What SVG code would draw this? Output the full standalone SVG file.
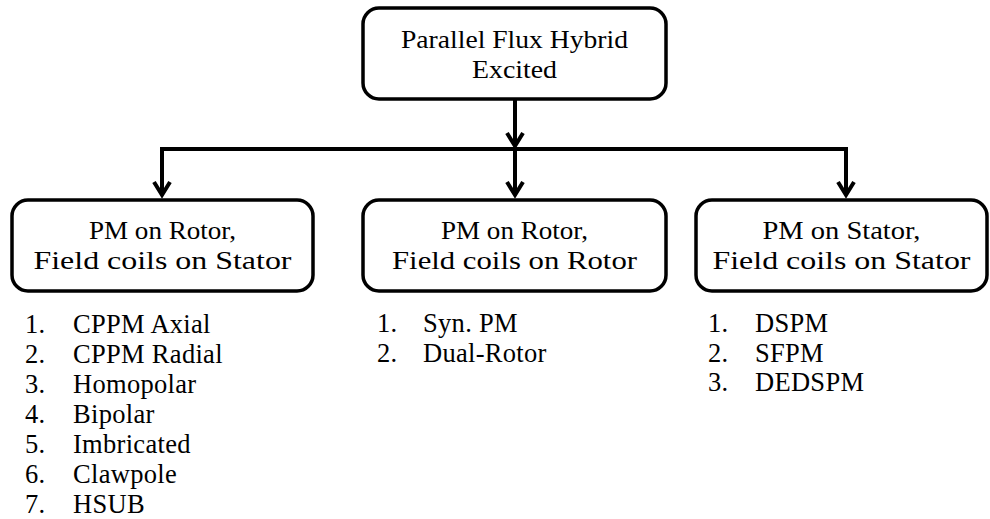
<svg xmlns="http://www.w3.org/2000/svg" width="990" height="519" viewBox="0 0 990 519">
<style>
.box{fill:#fff;stroke:#000;stroke-width:3.5}
.t{font-family:"Liberation Serif","Times New Roman",serif;font-size:26px;fill:#000;text-anchor:middle}
.l{font-family:"Liberation Serif","Times New Roman",serif;font-size:26.5px;letter-spacing:0.3px;fill:#000}
.conn{fill:none;stroke:#000;stroke-width:4;stroke-linejoin:miter}
</style>
<defs>
<marker id="arr" markerUnits="userSpaceOnUse" viewBox="-18 -12 22 24" markerWidth="22" markerHeight="24" refX="0" refY="0" orient="auto" overflow="visible">
<path d="M-13,-8 L0,0 L-13,8" fill="none" stroke="#000" stroke-width="4" stroke-linejoin="miter"/>
</marker>
</defs>
<rect width="990" height="519" fill="#fff"/>
<g id="connectors">
<path class="conn" d="M515,99 V146" marker-end="url(#arr)"/>
<path class="conn" d="M515,149 H162 V195" marker-end="url(#arr)"/>
<path class="conn" d="M515,149 H846 V195" marker-end="url(#arr)"/>
<path class="conn" d="M515,149 V195" marker-end="url(#arr)"/>
</g>
<g id="root">
<rect class="box" x="363" y="8" width="303" height="91" rx="16"/>
<text class="t" x="514.5" y="48" textLength="227" lengthAdjust="spacingAndGlyphs">Parallel Flux Hybrid</text>
<text class="t" x="514.5" y="78" textLength="85" lengthAdjust="spacingAndGlyphs">Excited</text>
</g>
<g id="rotor-stator">
<rect class="box" x="12" y="200" width="301" height="91" rx="16"/>
<text class="t" x="162.5" y="239" textLength="147" lengthAdjust="spacingAndGlyphs">PM on Rotor,</text>
<text class="t" x="162.5" y="269" textLength="258" lengthAdjust="spacingAndGlyphs">Field coils on Stator</text>
</g>
<g id="rotor-rotor">
<rect class="box" x="363" y="200" width="303" height="91" rx="16"/>
<text class="t" x="514.5" y="239" textLength="147" lengthAdjust="spacingAndGlyphs">PM on Rotor,</text>
<text class="t" x="514.5" y="269" textLength="245" lengthAdjust="spacingAndGlyphs">Field coils on Rotor</text>
</g>
<g id="stator-stator">
<rect class="box" x="696" y="200" width="291" height="91" rx="16"/>
<text class="t" x="841.5" y="239" textLength="158" lengthAdjust="spacingAndGlyphs">PM on Stator,</text>
<text class="t" x="841.5" y="269" textLength="258" lengthAdjust="spacingAndGlyphs">Field coils on Stator</text>
</g>
<g id="list-left" class="l">
<text x="25" y="333">1.</text><text x="73" y="333">CPPM Axial</text>
<text x="25" y="363">2.</text><text x="73" y="363">CPPM Radial</text>
<text x="25" y="393">3.</text><text x="73" y="393">Homopolar</text>
<text x="25" y="423">4.</text><text x="73" y="423">Bipolar</text>
<text x="25" y="453">5.</text><text x="73" y="453">Imbricated</text>
<text x="25" y="483">6.</text><text x="73" y="483">Clawpole</text>
<text x="25" y="513">7.</text><text x="73" y="513">HSUB</text>
</g>
<g id="list-middle" class="l">
<text x="377" y="332">1.</text><text x="423" y="332">Syn. PM</text>
<text x="377" y="362">2.</text><text x="423" y="362">Dual-Rotor</text>
</g>
<g id="list-right" class="l">
<text x="708" y="332">1.</text><text x="755" y="332">DSPM</text>
<text x="708" y="362">2.</text><text x="755" y="362">SFPM</text>
<text x="708" y="391">3.</text><text x="755" y="391">DEDSPM</text>
</g>
</svg>
